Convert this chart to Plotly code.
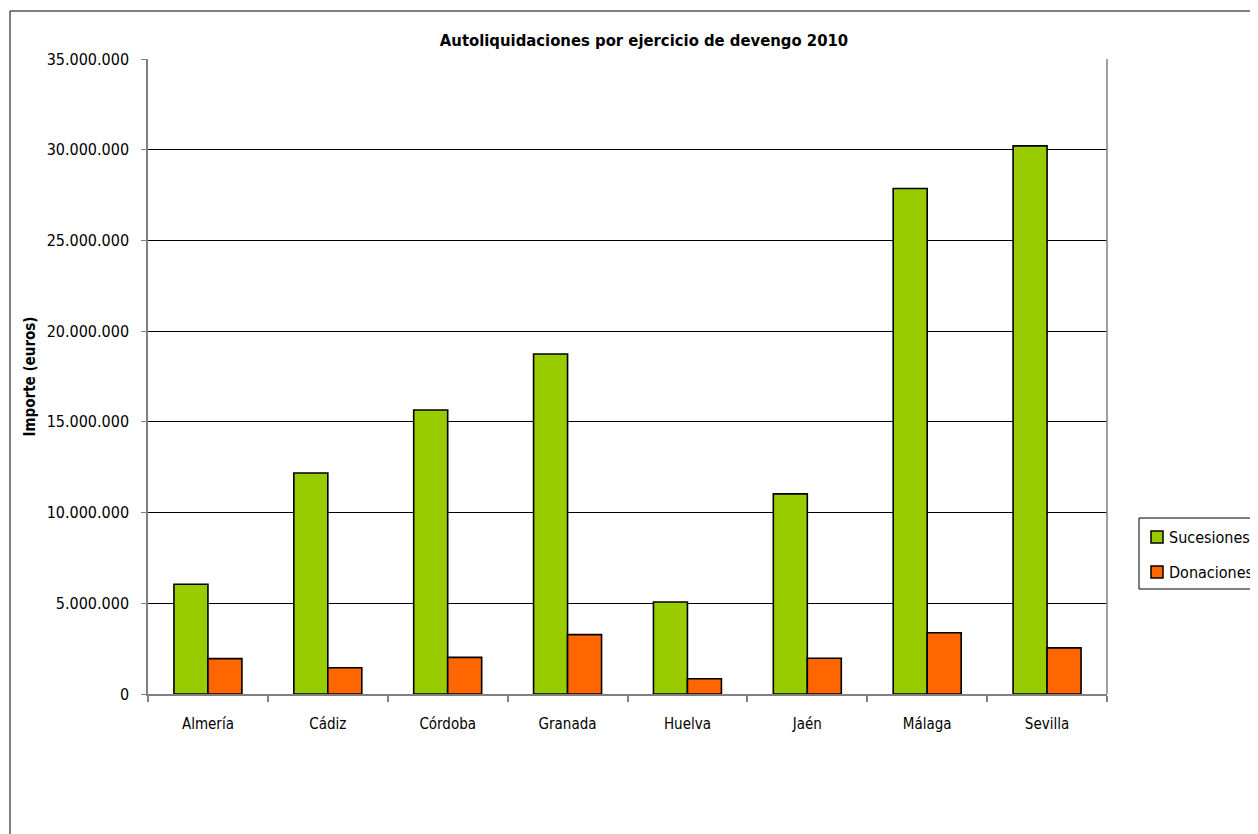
import plotly.graph_objects as go

provincias = ["Almería", "Cádiz", "Córdoba", "Granada", "Huelva", "Jaén", "Málaga", "Sevilla"]
sucesiones = [6050000, 12180000, 15650000, 18740000, 5070000, 11030000, 27860000, 30210000]
donaciones = [1950000, 1450000, 2020000, 3270000, 840000, 1970000, 3380000, 2540000]
series_names = ["Sucesiones", "Donaciones"]
series_colors = ["#99CC00", "#FF6600"]
y_ticks = [0, 5000000, 10000000, 15000000, 20000000, 25000000, 30000000, 35000000]

FONT = "DejaVu Sans Condensed, Liberation Sans, sans-serif"

# page body has an 8px margin; work in page coordinates and shift
OFF = 8
W, H = 1258 - OFF, 834 - OFF
L, R, T, B = 148 - OFF, 1107 - OFF, 59 - OFF, 694 - OFF


def px(x):
    return (x - OFF - L) / (R - L)


def py(y):
    return (B - (y - OFF)) / (B - T)


fig = go.Figure()
for name, vals, col in zip(series_names, [sucesiones, donaciones], series_colors):
    fig.add_trace(go.Bar(x=provincias, y=vals, name=name,
                         marker=dict(color=col, line=dict(color="black", width=1.6))))

fig.update_layout(
    width=W, height=H,
    margin=dict(l=L, r=W - R, t=T, b=H - B, pad=0),
    paper_bgcolor="white", plot_bgcolor="white",
    separators=",.",
    barmode="group", bargap=0.433, bargroupgap=0,
    font=dict(family=FONT, size=15, color="black"),
    title=dict(text="<b>Autoliquidaciones por ejercicio de devengo 2010</b>",
               x=(644 - OFF) / W, xanchor="center", y=1 - (40 - OFF) / H, yanchor="middle",
               font=dict(family=FONT, size=16.5, color="black")),
    showlegend=False,
)

fig.update_xaxes(
    showline=True, linecolor="#808080", linewidth=1.5,
    ticks="outside", tickson="boundaries", ticklen=6, tickcolor="#808080", tickwidth=1.5,
    showgrid=False, tickfont=dict(family=FONT, size=15, color="black"),
    ticklabelstandoff=15,
)
fig.update_yaxes(
    range=[0, 35000000], tickvals=y_ticks, tickformat=",d",
    showline=True, linecolor="#808080", linewidth=1.5,
    ticks="outside", ticklen=5, tickcolor="#808080", tickwidth=1.2,
    showgrid=True, gridcolor="black", gridwidth=1, zeroline=False,
    tickfont=dict(family=FONT, size=16, color="black"),
    ticklabelstandoff=9,
    title=dict(text="<b>Importe (euros)</b>", font=dict(family=FONT, size=15, color="black"), standoff=7),
)

# right border of plot area
fig.add_shape(type="line", xref="paper", yref="paper", x0=1, x1=1, y0=0, y1=1,
              line=dict(color="#808080", width=1.5))
# outer chart border
fig.add_shape(type="rect", xref="paper", yref="paper",
              x0=px(10), x1=px(1400), y0=py(11), y1=py(1000),
              line=dict(color="black", width=1), layer="below")

# legend box (drawn manually so it does not push the plot margins)
fig.add_shape(type="rect", xref="paper", yref="paper",
              x0=px(1139), x1=px(1400), y0=py(518), y1=py(589),
              line=dict(color="black", width=1), fillcolor="white")
for i, (name, col) in enumerate(zip(series_names, series_colors)):
    yc = 537 + i * 35
    fig.add_shape(type="rect", xref="paper", yref="paper",
                  x0=px(1151), x1=px(1163), y0=py(yc - 6), y1=py(yc + 6),
                  line=dict(color="black", width=1.5), fillcolor=col)
    fig.add_annotation(xref="paper", yref="paper", x=px(1167), y=py(yc),
                       xanchor="left", yanchor="middle", showarrow=False, text=name,
                       font=dict(family=FONT, size=16, color="black"))

fig.write_html("out.html")
